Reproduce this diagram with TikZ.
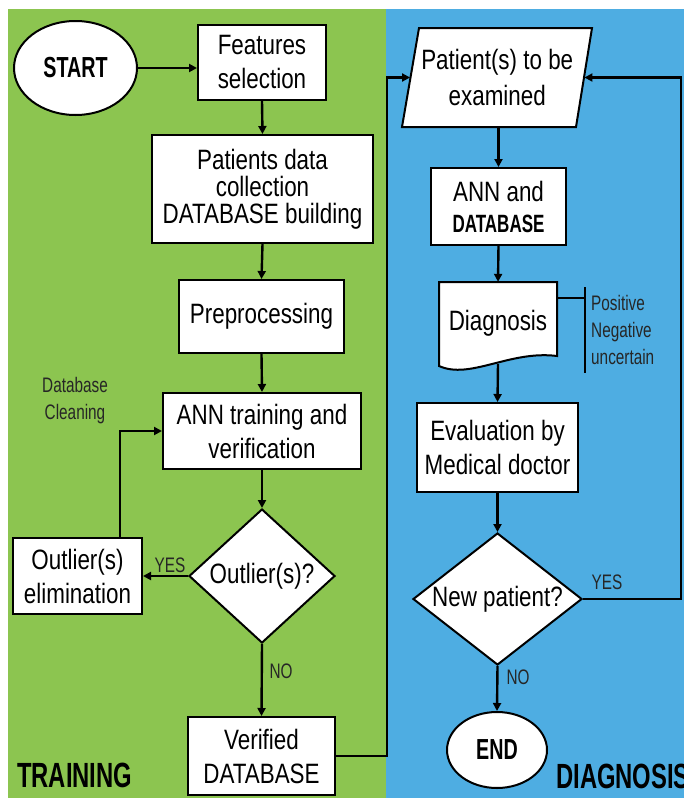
\documentclass[tikz,border=0pt]{standalone}
\usepackage{fontspec}
\setmainfont{Liberation Sans}[FakeStretch=0.8]
\newfontfamily\smallf{Liberation Sans}[FakeStretch=0.73]
\newfontfamily\headf{Liberation Sans}[FakeStretch=0.68]
\usetikzlibrary{shapes.geometric,arrows.meta,calc}
\definecolor{trgreen}{RGB}{140,197,80}
\definecolor{dgblue}{RGB}{78,173,226}
\begin{document}
\begin{tikzpicture}[x=1pt,y=-1pt,
  box/.style={draw=black, line width=2pt, fill=white, align=center, inner sep=0pt, font=\fontsize{28}{34}\selectfont},
  arr/.style={line width=2.4pt, -{Triangle[length=8pt,width=8pt]}},
  lab/.style={font=\smallf\fontsize{21}{27}\selectfont, text=black!85, inner sep=0pt, align=center},
  head/.style={font=\headf\bfseries\fontsize{35}{35}\selectfont, inner sep=0pt},
  txt/.style={align=center, inner sep=0pt, font=\fontsize{28}{34}\selectfont}
]
\useasboundingbox (0,0) rectangle (684,798);
\fill[trgreen] (8,9) rectangle (386,798);
\fill[dgblue] (386,9) rectangle (684,798);

% training side
\node[box, ellipse, minimum width=123pt, minimum height=94pt, font=\headf\bfseries\fontsize{29}{34}\selectfont] (start) at (75.5,68) {START};
\node[box, minimum width=128pt, minimum height=75pt] (feat) at (262,62.5) {Features\\selection};
\node[box, minimum width=221pt, minimum height=108pt, font=\fontsize{28}{27}\selectfont] (pat) at (262.5,189) {Patients data\\collection\\DATABASE building};
\node[box, minimum width=165pt, minimum height=73pt] (pre) at (261.5,316.5) {Preprocessing};
\node[box, minimum width=198pt, minimum height=76pt] (annt) at (262,431) {ANN training and\\verification};
\node[box, diamond, minimum width=146pt, minimum height=134pt] (out) at (262,576) {};
\node[txt] (outt) at (out) {Outlier(s)?};
\node[box, minimum width=129pt, minimum height=76pt] (elim) at (77.5,576) {Outlier(s)\\elimination};
\node[box, minimum width=147pt, minimum height=78pt] (ver) at (261.5,756) {Verified\\DATABASE};

% diagnosis side
\draw[line width=2pt, fill=white] (419,28) -- (592,28) -- (576,127) -- (402,127) -- cycle;
\node[txt, minimum width=174pt, minimum height=99pt, font=\fontsize{28}{36}\selectfont] (pp) at (497.25,77.5) {Patient(s) to be\\examined};
\node[box, minimum width=135pt, minimum height=77pt, font=\fontsize{28}{31}\selectfont] (ann2) at (498.5,206.5) {ANN and\\{\headf\bfseries\fontsize{25}{31}\selectfont DATABASE}};
\draw[line width=2pt, fill=white] (439,282) -- (557,282) -- (557,356) .. controls (510,350) and (470,380) .. (439,366) -- cycle;
\node[txt, minimum width=118pt, minimum height=82pt] (diag) at (498,323) {Diagnosis};
\node[box, minimum width=161pt, minimum height=89pt] (eval) at (497.5,447.5) {Evaluation by\\Medical doctor};
\node[box, diamond, minimum width=169pt, minimum height=132pt] (np) at (497.5,599) {};
\node[txt] (npt) at (np) {New patient?};
\node[box, ellipse, minimum width=100pt, minimum height=76pt, font=\headf\bfseries\fontsize{29}{34}\selectfont] (end) at (497,750) {END};

% helper coordinates
\coordinate (fbx) at (120,0);
\coordinate (lx) at (387,0);
\coordinate (rx) at (681,0);
\coordinate (brk) at (585,298);
\coordinate (bt) at (585,287);
\coordinate (bb) at (585,373);

% connectors
\draw[arr] (start.east) -- (start.east -| feat.west);
\draw[arr] (feat.south) -- (pat.north);
\draw[arr] (pat.south) -- (pre.north);
\draw[arr] (pre.south) -- (annt.north);
\draw[arr] (annt.south) -- (out.north);
\draw[arr] (out.west) -- (elim.east);
\draw[arr] (elim.north -| fbx) |- (annt.west);
\draw[arr] (out.south) -- (ver.north);
\draw[arr] (ver.east) -| (lx |- pp.west) -- (pp.west);
\draw[arr] (ann2.north |- pp.south) -- (ann2.north);
\draw[arr] (ann2.south) -- (diag.north);
\draw[arr] (diag.south) -- (eval.north);
\draw[arr] (eval.south) -- (np.north);
\draw[arr] (np.east) -| (rx |- pp.east) -- (pp.east);
\draw[arr] (np.south) -- (end.north);
\draw[line width=2pt] (diag.east |- brk) -- (brk);
\draw[line width=2pt] (bt) -- (bb);

% labels
\node[lab] (yes1) at (170,565) {YES};
\node[lab] (no1) at (281,671) {NO};
\node[lab] (yes2) at (607,582) {YES};
\node[lab] (no2) at (518,677) {NO};
\node[lab] (dbc) at (75,401) {Database\\Cleaning};
\node[lab, align=left, anchor=west] (pna) at (591,330) {Positive\\Negative\\uncertain};
\node[head, anchor=west] (tr) at (17,775) {TRAINING};
\node[head, anchor=west] (dg) at (556,776) {DIAGNOSIS};
\end{tikzpicture}
\end{document}
